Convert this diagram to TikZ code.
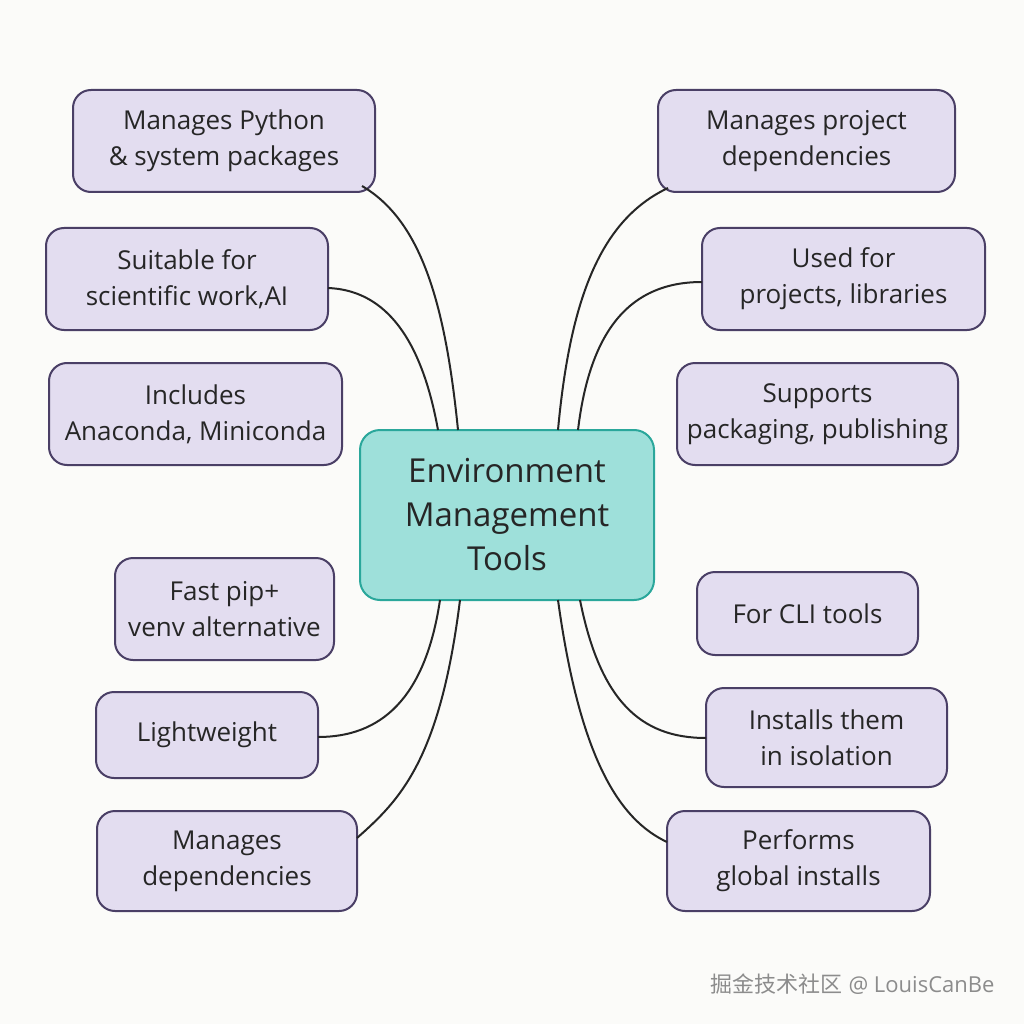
\documentclass[tikz,border=0pt]{standalone}
\usepackage{fontspec}
\setmainfont{Open Sans}
\newfontfamily\cjk{Noto Sans CJK SC}
\begin{document}
\begin{tikzpicture}[x=1pt,y=-1pt,
 box/.style={draw=boxb,fill=boxf,line width=2pt,rounded corners=18pt,align=center,font=\fontsize{26}{36}\selectfont,text=black!85,inner sep=0pt},
 link/.style={draw=black!85,line width=2pt}]
\definecolor{boxf}{HTML}{E3DDF0}\definecolor{boxb}{HTML}{4A3F66}
\definecolor{cf}{HTML}{9EE0DA}\definecolor{cb}{HTML}{2AA79B}
\fill[fill={rgb,255:red,251;green,251;blue,249}] (0,0) rectangle (1024,1024);
\useasboundingbox (0,0) rectangle (1024,1024);
\newcommand\bx[6]{\node[box,minimum width=#4-#2,minimum height=#5-#3] (#1) at ({(#2+#4)/2},{(#3+#5)/2}) {#6};}
\node[draw=cb,fill=cf,line width=2pt,rounded corners=20pt,minimum width=294,minimum height=170,align=center,font=\fontsize{33}{44}\selectfont,text=black!85] (c) at (507,515) {Environment\\Management\\Tools};
\bx{l1}{73}{90}{375}{192}{Manages Python\\\& system packages}
\bx{l2}{46}{228}{328}{330}{Suitable for\\scientific work,AI}
\bx{l3}{49}{363}{342}{465}{Includes\\Anaconda, Miniconda}
\bx{l4}{115}{558}{334}{660}{Fast pip+\\venv alternative}
\bx{l5}{96}{692}{318}{778}{Lightweight}
\bx{l6}{97}{811}{357}{911}{Manages\\dependencies}
\bx{r1}{658}{90}{955}{192}{Manages project\\dependencies}
\bx{r2}{702}{228}{985}{330}{Used for\\projects, libraries}
\bx{r3}{677}{363}{958}{465}{Supports\\packaging, publishing}
\bx{r4}{697}{572}{918}{655}{For CLI tools}
\bx{r5}{706}{688}{947}{787}{Installs them\\in isolation}
\bx{r6}{667}{811}{930}{911}{Performs\\global installs}
\coordinate (a1) at (458,430);\coordinate (a2) at (438,430);
\coordinate (b1) at (558,430);\coordinate (b2) at (578,430);
\coordinate (d1) at (440,600);\coordinate (d2) at (460,600);
\coordinate (e1) at (580,600);\coordinate (e2) at (558,600);
\coordinate (p1) at (362,186);\coordinate (p2) at (328,288);
\coordinate (q1) at (668,188);\coordinate (q2) at (702,282);
\coordinate (s5) at (318,737);\coordinate (s6) at (357,838);
\coordinate (t5) at (706,738);\coordinate (t6) at (667,842);
\draw[link] (a1) .. controls (445,300) and (420,220) .. (p1);
\draw[link] (a2) .. controls (420,330) and (380,290) .. (p2);
\draw[link] (b1) .. controls (570,300) and (600,220) .. (q1);
\draw[link] (b2) .. controls (590,330) and (630,282) .. (q2);
\draw[link] (d1) .. controls (425,700) and (380,737) .. (s5);
\draw[link] (d2) .. controls (440,760) and (400,800) .. (s6);
\draw[link] (e1) .. controls (600,700) and (640,738) .. (t5);
\draw[link] (e2) .. controls (580,760) and (620,820) .. (t6);
\node[font=\fontsize{22}{26}\selectfont,text=black!45,anchor=east] (w) at (998,984) {{\cjk 掘金技术社区} @ LouisCanBe};
\end{tikzpicture}
\end{document}
